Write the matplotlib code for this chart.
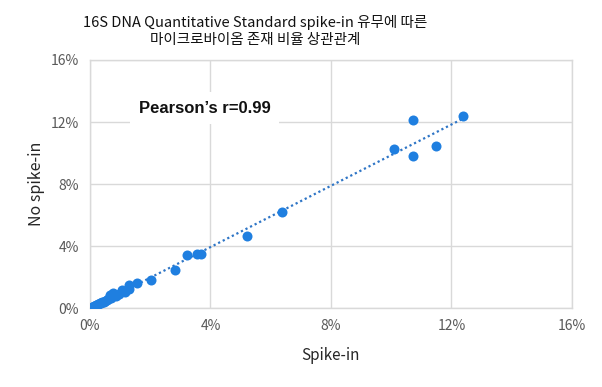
import matplotlib
matplotlib.use('Agg')
import matplotlib.pyplot as plt
from matplotlib.ticker import FuncFormatter
import numpy as np

plt.rcParams['font.family'] = ['Noto Sans CJK KR', 'DejaVu Sans']

# values in percent
spike_in = [0.02, 0.05, 0.08, 0.1, 0.13, 0.16, 0.2, 0.24, 0.28, 0.32, 0.36, 0.4, 0.45,
            0.5, 0.55, 0.6, 0.66, 0.7, 0.77, 0.85, 0.95, 1.05, 1.15, 1.3, 1.3, 1.56,
            2.01, 2.81, 3.21, 3.55, 3.67, 5.21, 6.36,
            10.08, 10.72, 10.74, 11.49, 12.40]
no_spike_in = [0.0, 0.03, 0.06, 0.1, 0.12, 0.15, 0.19, 0.22, 0.27, 0.3, 0.33, 0.38, 0.42,
               0.45, 0.5, 0.56, 0.84, 0.62, 0.95, 0.8, 0.9, 1.16, 1.05, 1.46, 1.2, 1.59,
               1.81, 2.43, 3.42, 3.46, 3.46, 4.65, 6.17,
               10.24, 9.83, 12.13, 10.45, 12.41]

x = np.array(spike_in) / 100
y = np.array(no_spike_in) / 100

blue = '#1f7fe0'

fig = plt.figure(figsize=(6.02, 3.87), dpi=100)
ax = fig.add_axes([0.1495, 0.204, 0.8005, 0.641])

ax.scatter(x, y, s=52, color=blue, zorder=3, linewidths=0)

# linear trendline
k, b = np.polyfit(x, y, 1)
xs = np.array([x.min(), x.max()])
ax.plot(xs, k * xs + b, linestyle=(0, (1, 1.3)), color='#2e75c6', linewidth=1.6, zorder=2)

ax.set_xlim(0, 0.16)
ax.set_ylim(0, 0.16)
ticks = [0, 0.04, 0.08, 0.12, 0.16]
ax.set_xticks(ticks)
ax.set_yticks(ticks)
pct = FuncFormatter(lambda v, p: '{:.0f}%'.format(v * 100))
ax.xaxis.set_major_formatter(pct)
ax.yaxis.set_major_formatter(pct)
ax.tick_params(length=0, labelsize=10, labelcolor='#595959', pad=8)
ax.grid(True, color='#d9d9d9', linewidth=1)
ax.set_axisbelow(True)
for s in ax.spines.values():
    s.set_color('#d9d9d9')
    s.set_linewidth(1)

ax.set_xlabel('Spike-in', fontsize=11, color='#262626', labelpad=10)
ax.set_ylabel('No spike-in', fontsize=11.5, color='#262626', labelpad=4)

ax.text(0.038, 0.129, 'Pearson\u2019s r=0.99', fontsize=12, fontweight='bold',
        family='Liberation Sans', ha='center', va='center', color='#111111',
        bbox=dict(facecolor='white', edgecolor='none', pad=6), zorder=4)

fig.text(255 / 602, 1 - 31 / 387,
         '16S DNA Quantitative Standard spike-in 유무에 따른\n마이크로바이옴 존재 비율 상관관계',
         ha='center', va='center', multialignment='center',
         fontsize=10.5, color='#111111', linespacing=1.3)

fig.savefig('out.png', dpi=100)
plt.close()
